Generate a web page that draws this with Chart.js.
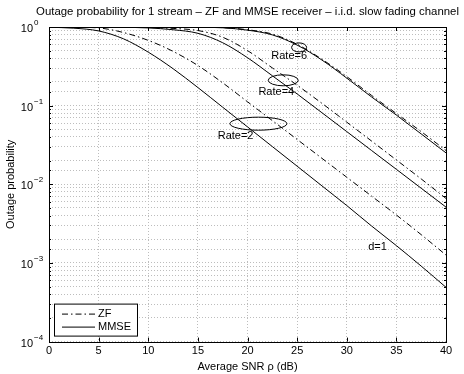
<!DOCTYPE html>
<html>
<head>
<meta charset="utf-8">
<script src="https://cdn.jsdelivr.net/npm/chart.js@4/dist/chart.umd.min.js"></script>
<style>
  html, body { margin: 0; padding: 0; background: #fff; }
</style>
</head>
<body>
<canvas id="outageChart" width="464" height="374"></canvas>
<script>
// Average SNR (dB) sample points
const snrDb = [0, 2.5, 5, 7.5, 10, 12.5, 15, 17.5, 20, 22.5, 25, 27.5, 30, 32.5, 35, 37.5, 40];

// Outage probability
const zfRate2   = [0.998, 0.993, 0.973, 0.851, 0.676, 0.490, 0.324, 0.195, 0.112, 0.0646, 0.0372, 0.0214, 0.0123, 0.00708, 0.00407, 0.00229, 0.00126];
const mmseRate2 = [0.993, 0.966, 0.891, 0.708, 0.479, 0.295, 0.170, 0.0955, 0.0537, 0.0302, 0.0170, 0.00955, 0.00537, 0.00295, 0.00166, 0.000912, 0.000490];
const zfRate4   = [1, 1, 1, 0.995, 0.986, 0.959, 0.902, 0.741, 0.501, 0.302, 0.182, 0.107, 0.0617, 0.0355, 0.0204, 0.0117, 0.00661];
const mmseRate4 = [1, 1, 0.998, 0.991, 0.973, 0.923, 0.832, 0.631, 0.407, 0.240, 0.141, 0.0813, 0.0468, 0.0269, 0.0155, 0.00891, 0.00513];
const zfRate6   = [1, 1, 1, 1, 1, 1, 0.998, 0.982, 0.923, 0.813, 0.603, 0.389, 0.234, 0.135, 0.0794, 0.0468, 0.0269];
const mmseRate6 = [1, 1, 1, 1, 1, 1, 0.995, 0.977, 0.912, 0.794, 0.589, 0.380, 0.224, 0.129, 0.0759, 0.0437, 0.0251];

const xTicks = [0, 5, 10, 15, 20, 25, 30, 35, 40];
const yDecades = [0, -1, -2, -3, -4];

const TITLE = 'Outage probability for 1 stream \u2013 ZF and MMSE receiver \u2013 i.i.d. slow fading channel';
const FONT = '"Liberation Sans", Arial, Helvetica, sans-serif';
const ZF_DASH = [6, 3, 1.5, 3];

// annotation callouts (data coordinates)
const ellipses = [
    { x: 25.2, y: 0.55,  rx: 7.5,  ry: 4.5 },
    { x: 23.6, y: 0.21,  rx: 15,   ry: 5.5 },
    { x: 21.1, y: 0.059, rx: 28.5, ry: 6.5 }
];
const labels = [
    { text: 'Rate=6', x: 24.2, y: 0.43 },
    { text: 'Rate=4', x: 22.9, y: 0.148 },
    { text: 'Rate=2', x: 18.8, y: 0.041 },
    { text: 'd=1',    x: 33.1, y: 0.0016 }
];

function series(values, dashed) {
    return {
        data: snrDb.map((x, i) => ({ x: x, y: values[i] })),
        borderColor: '#000',
        borderWidth: 1,
        borderDash: dashed ? ZF_DASH : [],
        pointRadius: 0,
        fill: false,
        cubicInterpolationMode: 'monotone'
    };
}

const matlabFrame = {
    id: 'matlabFrame',
    afterDatasetsDraw(chart) {
        const ctx = chart.ctx;
        const a = chart.chartArea;
        const x = chart.scales.x;
        const y = chart.scales.y;
        ctx.save();

        // ellipses + labels
        ctx.strokeStyle = '#000';
        ctx.lineWidth = 1;
        ctx.setLineDash([]);
        ellipses.forEach(e => {
            ctx.beginPath();
            ctx.ellipse(x.getPixelForValue(e.x), y.getPixelForValue(e.y), e.rx, e.ry, 0, 0, Math.PI * 2);
            ctx.stroke();
        });
        ctx.fillStyle = '#000';
        ctx.font = '11px ' + FONT;
        ctx.textAlign = 'center';
        ctx.textBaseline = 'middle';
        labels.forEach(l => {
            ctx.fillText(l.text, x.getPixelForValue(l.x), y.getPixelForValue(l.y));
        });

        // axes box
        ctx.strokeRect(Math.round(a.left) + 0.5, Math.round(a.top) + 0.5,
            Math.round(a.right - a.left), Math.round(a.bottom - a.top));

        // inward tick marks
        ctx.beginPath();
        xTicks.forEach(v => {
            const px = Math.round(x.getPixelForValue(v)) + 0.5;
            ctx.moveTo(px, a.bottom); ctx.lineTo(px, a.bottom - 4);
            ctx.moveTo(px, a.top); ctx.lineTo(px, a.top + 4);
        });
        y.ticks.forEach(t => {
            const lg = Math.log10(t.value);
            const major = Math.abs(lg - Math.round(lg)) < 1e-6;
            const len = major ? 4 : 2;
            const py = Math.round(y.getPixelForValue(t.value)) + 0.5;
            ctx.moveTo(a.left, py); ctx.lineTo(a.left + len, py);
            ctx.moveTo(a.right, py); ctx.lineTo(a.right - len, py);
        });
        ctx.stroke();

        // y tick labels 10^k
        ctx.textBaseline = 'alphabetic';
        yDecades.forEach(k => {
            const py = y.getPixelForValue(Math.pow(10, k));
            ctx.font = '11px ' + FONT;
            ctx.textAlign = 'right';
            ctx.fillText('10', a.left - 16, py + 5);
            ctx.font = '8px ' + FONT;
            ctx.textAlign = 'left';
            ctx.fillText(k === 0 ? '0' : '\u2212' + (-k), a.left - 15, py - 2);
        });

        // y axis title
        ctx.save();
        ctx.translate(11, (a.top + a.bottom) / 2);
        ctx.rotate(-Math.PI / 2);
        ctx.font = '11px ' + FONT;
        ctx.textAlign = 'center';
        ctx.textBaseline = 'middle';
        ctx.fillText('Outage probability', 0, 0);
        ctx.restore();

        // title
        ctx.font = '11.4px ' + FONT;
        ctx.textAlign = 'center';
        ctx.textBaseline = 'middle';
        ctx.fillText(TITLE, (a.left + a.right) / 2, 12);

        // legend
        const lx = a.left + 5, ly = a.bottom - 38, lw = 83, lh = 32;
        ctx.fillStyle = '#fff';
        ctx.fillRect(lx, ly, lw, lh);
        ctx.strokeStyle = '#000';
        ctx.strokeRect(lx + 0.5, ly + 0.5, lw, lh);
        ctx.beginPath();
        ctx.setLineDash(ZF_DASH);
        ctx.moveTo(lx + 8, ly + 10.5); ctx.lineTo(lx + 41, ly + 10.5);
        ctx.stroke();
        ctx.beginPath();
        ctx.setLineDash([]);
        ctx.moveTo(lx + 8, ly + 23.5); ctx.lineTo(lx + 41, ly + 23.5);
        ctx.stroke();
        ctx.fillStyle = '#000';
        ctx.font = '11px ' + FONT;
        ctx.textAlign = 'left';
        ctx.fillText('ZF', lx + 44, ly + 10.5);
        ctx.fillText('MMSE', lx + 44, ly + 23.5);

        ctx.restore();
    }
};

new Chart(document.getElementById('outageChart'), {
    type: 'line',
    data: {
        datasets: [
            series(zfRate2, true),
            series(mmseRate2, false),
            series(zfRate4, true),
            series(mmseRate4, false),
            series(zfRate6, true),
            series(mmseRate6, false)
        ]
    },
    options: {
        responsive: false,
        animation: false,
        layout: { padding: { left: 49, right: 18, top: 27, bottom: 0 } },
        plugins: {
            legend: { display: false },
            title: { display: false },
            tooltip: { enabled: false }
        },
        scales: {
            x: {
                type: 'linear',
                min: 0,
                max: 40,
                afterBuildTicks: scale => { scale.ticks = xTicks.map(v => ({ value: v })); },
                grid: { color: '#bdbdbd', drawTicks: false },
                border: { display: false, dash: [1, 2] },
                ticks: { color: '#000', font: { family: FONT, size: 11 }, padding: 3 },
                title: {
                    display: true,
                    text: 'Average SNR \u03c1 (dB)',
                    color: '#000',
                    font: { family: FONT, size: 11 },
                    padding: { top: 0, bottom: 0 }
                }
            },
            y: {
                type: 'logarithmic',
                min: 1e-4,
                max: 1,
                grid: { color: '#bdbdbd', drawTicks: false },
                border: { display: false, dash: [1, 2] },
                ticks: { display: false }
            }
        }
    },
    plugins: [matlabFrame]
});
</script>
</body>
</html>
